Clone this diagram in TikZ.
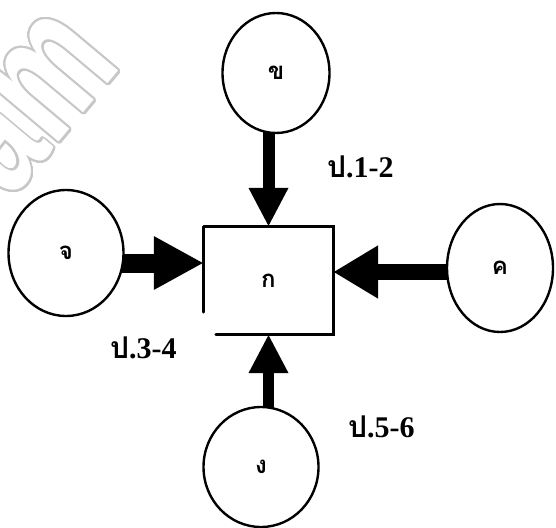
\documentclass[tikz,border=0pt]{standalone}
\usepackage{fontspec}
\setmainfont{Liberation Serif}
\newfontfamily\thai[Script=Thai]{Loma}
\newfontfamily\wmfont{Liberation Sans}
\usepackage{contour}
\usetikzlibrary{shapes.geometric,arrows.meta}
\pgfdeclarelayer{bg}
\pgfsetlayers{bg,main}
\definecolor{wmgray}{gray}{0.78}
\contourlength{2.4pt}
\contournumber{32}
\tikzset{
  ring/.style={ellipse, draw, line width=2.4pt, fill=white, inner sep=0pt,
    font=\thai\bfseries\fontsize{24}{24}\selectfont},
  frame/.style={line width=3pt, line cap=round},
  lbl/.style={font=\bfseries\fontsize{30}{30}\selectfont, inner sep=0pt, anchor=west},
  thinarrow/.style={line width=12pt, -{Triangle[length=39pt,width=37pt]}},
  fatarrow/.style={-{Triangle[length=50pt,width=50pt]}},
}
\begin{document}
\begin{tikzpicture}[x=1pt,y=-1pt]
\useasboundingbox (0,0) rectangle (556,527);
% watermark
\node[rotate=50, xscale=0.7, anchor=base west, inner sep=0pt,
  font=\wmfont\bfseries\fontsize{175}{175}\selectfont] (wm) at (10,201)
  {\contour{wmgray}{\textcolor{white}{am}}};
% circles
\node[ring, minimum width=107pt, minimum height=120pt] (kh) at (276,73) {ข};
\node[ring, minimum width=115pt, minimum height=126pt] (ch) at (66,253) {จ};
\node[ring, minimum width=106pt, minimum height=128pt] (kk) at (500,268) {ค};
\node[ring, minimum width=115pt, minimum height=120pt] (ng) at (261,467) {ง};
% box
\node[minimum width=129pt, minimum height=107pt, inner sep=0pt,
  font=\thai\bfseries\fontsize{24}{24}\selectfont] (ko) at (268.5,280.5) {ก};
\draw[frame] (ko.north west) -- (ko.north east) -- (ko.south east) -- ([xshift=12pt]ko.south west);
\draw[frame] (ko.north west) -- ([yshift=22pt]ko.south west);
\coordinate (tT) at (ko.north);
\coordinate (tB) at (ko.south);
\coordinate (tL) at ([yshift=17.5pt]ko.west);
\coordinate (tR) at ([yshift=8.5pt]ko.east);
\begin{pgfonlayer}{bg}
\draw[thinarrow] (kh.center -| tT) -- (tT);
\draw[thinarrow, line width=11pt] (ng.center -| tB) -- (tB);
\draw[fatarrow, line width=19pt] (ch.center |- tL) -- (tL);
\draw[fatarrow, line width=16pt, -{Triangle[length=45pt,width=50pt]}] (kk.center |- tR) -- (tR);
\end{pgfonlayer}
% labels
\node[lbl] (l12) at (327,167) {{\thai ป}.1-2};
\node[lbl] (l34) at (110,348) {{\thai ป}.3-4};
\node[lbl] (l56) at (348,427) {{\thai ป}.5-6};
\end{tikzpicture}
\end{document}
